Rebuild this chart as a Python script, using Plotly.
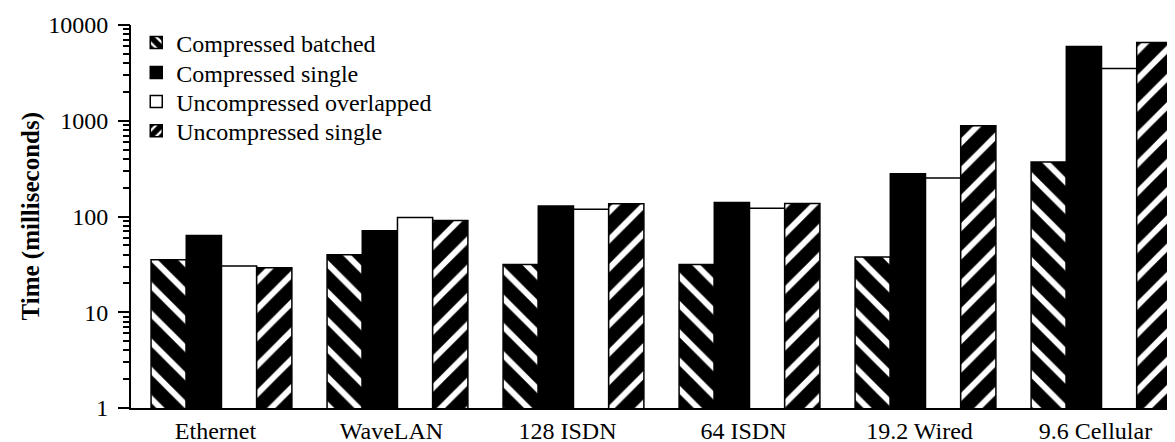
import plotly.graph_objects as go

categories = ["Ethernet", "WaveLAN", "128 ISDN", "64 ISDN", "19.2 Wired", "9.6 Cellular"]
compressed_batched = [35.3, 39.8, 31.6, 31.6, 37.7, 370]
compressed_single = [63.5, 71, 129, 140, 279, 5970]
uncompressed_overlapped = [30.4, 97.9, 119, 122, 252, 3516]
uncompressed_single = [29.1, 91, 136, 137, 885, 6564]
tick_vals = [1, 10, 100, 1000, 10000]
tick_text = ["1", "10", "100", "1000", "10000"]
minor_vals = [m * d for d in (1, 10, 100, 1000) for m in range(2, 10)]

all_vals = tick_vals + minor_vals
all_text = tick_text + [""] * len(minor_vals)

FONT = "Times New Roman, Liberation Serif, serif"
line = dict(color="black", width=1.5)

fig = go.Figure()
fig.add_trace(go.Bar(
    name="Compressed batched", x=categories, y=compressed_batched, legend="legend",
    marker=dict(color="white", line=line,
                pattern=dict(shape="\\", fgcolor="black", bgcolor="white",
                             size=20, solidity=0.7, fillmode="replace")),
))
fig.add_trace(go.Bar(
    name="Compressed single", x=categories, y=compressed_single, legend="legend2",
    marker=dict(color="black", line=line),
))
fig.add_trace(go.Bar(
    name="Uncompressed overlapped", x=categories, y=uncompressed_overlapped, legend="legend3",
    marker=dict(color="white", line=line),
))
fig.add_trace(go.Bar(
    name="Uncompressed single", x=categories, y=uncompressed_single, legend="legend4",
    marker=dict(color="white", line=line,
                pattern=dict(shape="/", fgcolor="black", bgcolor="white",
                             size=20, solidity=0.7, fillmode="replace")),
))
# empty helper trace so the overlaid axis (long major ticks) is drawn
fig.add_trace(go.Scatter(x=[], y=[], yaxis="y2", showlegend=False, hoverinfo="skip"))

def leg(yc):
    return dict(x=0.005, y=yc, xanchor="left", yanchor="middle",
                bgcolor="rgba(0,0,0,0)", font=dict(family=FONT, size=24),
                itemwidth=30)

fig.update_layout(
    width=1175, height=442,
    margin=dict(l=123, r=0, t=17, b=42),
    paper_bgcolor="white", plot_bgcolor="white",
    barmode="group", bargap=0.2, bargroupgap=0,
    font=dict(family=FONT, size=24, color="black"),
    showlegend=True,
    legend=leg(0.953), legend2=leg(0.875), legend3=leg(0.799), legend4=leg(0.723),
    annotations=[dict(text="<b>Time (milliseconds)</b>", xref="paper", yref="paper",
                      x=-0.096, y=0.5, xanchor="center", yanchor="middle",
                      textangle=-90, showarrow=False,
                      font=dict(family=FONT, size=25, color="black"))],
    yaxis=dict(
        type="log", range=[0, 4], autorange=False,
        showline=True, linecolor="black", linewidth=2,
        ticks="outside", ticklen=6, tickwidth=1.5, tickcolor="black",
        tickmode="array", tickvals=all_vals, ticktext=all_text, ticklabelstandoff=10,
        showgrid=False, zeroline=False,
        tickfont=dict(family=FONT, size=24),
    ),
    yaxis2=dict(
        type="log", range=[0, 4], autorange=False, overlaying="y", anchor="x", side="left",
        tickmode="array", tickvals=tick_vals, ticks="outside", ticklen=12,
        tickwidth=1.5, tickcolor="black", showticklabels=False,
        showline=False, showgrid=False, zeroline=False,
    ),
)
fig.update_xaxes(
    type="category", range=[-0.514, 5.463],
    showline=True, linecolor="black", linewidth=2,
    ticks="", showgrid=False, zeroline=False,
    tickfont=dict(family=FONT, size=24), ticklabelshift=-6,
)

fig.write_html("out.html")
